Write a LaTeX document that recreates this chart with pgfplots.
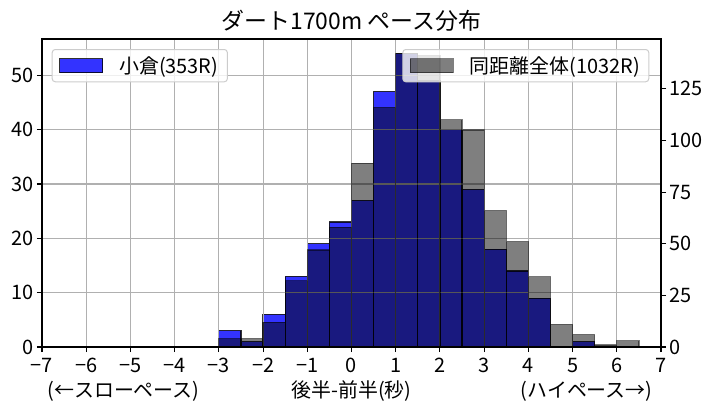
\documentclass[border=0pt]{standalone}
\usepackage{fontspec}
\setmainfont{Noto Sans CJK JP}
\usepackage{pgfplots}
\pgfplotsset{compat=1.18}

\definecolor{gridgray}{HTML}{B0B0B0}
\definecolor{legborder}{HTML}{CCCCCC}

\pgfplotsset{
  common/.style={
    width=619bp, height=308bp, scale only axis,
    xmin=-7, xmax=7, ymin=0,
    tick align=outside,
    major tick length=5bp,
    every tick/.style={black, line width=1.1bp},
    axis line style={line width=1.1bp},
    tick label style={font=\fontsize{20}{23}\selectfont},
    /pgf/number format/assume math mode=true,
    legend style={font=\fontsize{20}{23}\selectfont, draw=legborder,
      fill=white, fill opacity=0.8, draw opacity=1, text opacity=1,
      rounded corners=3bp, line width=1bp, inner xsep=7bp, inner ysep=5bp,
      column sep=14bp},
  },
}

\begin{document}
\begin{tikzpicture}
% left axis: Kokura
\begin{axis}[common, name=main,
  ymax=56.7,
  axis on top,
  xtick={-7,-6,...,7},
  xticklabels={−7,−6,−5,−4,−3,−2,−1,0,1,2,3,4,5,6,7},
  xticklabel style={yshift=-3bp},
  ytick={0,10,...,50},
  xtick pos=bottom, ytick pos=left,
  grid=major,
  grid style={gridgray, line width=1.1bp},
  legend style={at={(0.0157,0.9675)}, anchor=north west},
]
\addplot[ybar interval, fill=blue!80, draw=black, draw opacity=0.8, line width=1.2bp,
  legend image code/.code={\draw[sharp corners, fill=blue!80, fill opacity=1, draw=black, draw opacity=0.8, line width=1bp] (0bp,-7bp) rectangle (43bp,7bp);}]
  coordinates {(-3,3) (-2.5,1) (-2,6) (-1.5,13) (-1,19) (-0.5,23) (0,27) (0.5,47)
    (1,54) (1.5,49) (2,40) (2.5,29) (3,18) (3.5,14) (4,9) (4.5,0) (5,1) (5.5,0)};
\addlegendentry{小倉(353R)}
\end{axis}
% right axis: all races at the distance
\begin{axis}[common,
  ymax=149.1,
  hide x axis,
  axis y line*=right,
  ytick={0,25,...,125},
  legend style={at={(0.981,0.9675)}, anchor=north east},
]
\addplot[ybar interval, fill=black, fill opacity=0.5, draw=black, draw opacity=0.5, line width=1.2bp,
  legend image code/.code={\draw[sharp corners, fill=black, fill opacity=0.5, draw=black, draw opacity=0.5, line width=1bp] (0bp,-7bp) rectangle (43bp,7bp);}]
  coordinates {(-3,4) (-2.5,4) (-2,12) (-1.5,32) (-1,47) (-0.5,58) (0,89) (0.5,116)
    (1,142) (1.5,141) (2,110) (2.5,105) (3,66) (3.5,51) (4,34) (4.5,11) (5,6) (5.5,1) (6,3) (6.5,0)};
\addlegendentry{同距離全体(1032R)}
\end{axis}
\node[anchor=base, font=\fontsize{23}{27}\selectfont, yshift=9bp] at (main.north) {ダート1700m ペース分布};
\node[anchor=base west, font=\fontsize{20}{23}\selectfont, yshift=-50bp, xshift=2bp] at (main.south west) {(←スローペース)};
\node[anchor=base, font=\fontsize{20}{23}\selectfont, yshift=-50bp] at (main.south) {後半-前半(秒)};
\node[anchor=base east, font=\fontsize{20}{23}\selectfont, yshift=-50bp, xshift=-5bp] at (main.south east) {(ハイペース→)};
\pgfresetboundingbox
\path[use as bounding box] (-42bp,-65bp) rectangle (669bp,347bp);
\end{tikzpicture}
\end{document}
